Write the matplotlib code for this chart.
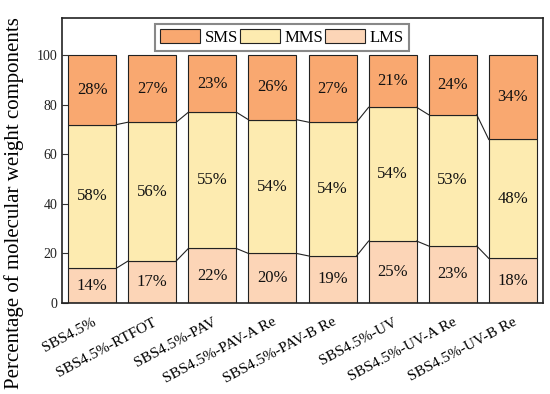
import numpy as np
import matplotlib
matplotlib.use('Agg')
import matplotlib.pyplot as plt

categories = ['SBS4.5%', 'SBS4.5%-RTFOT', 'SBS4.5%-PAV', 'SBS4.5%-PAV-A Re',
              'SBS4.5%-PAV-B Re', 'SBS4.5%-UV', 'SBS4.5%-UV-A Re', 'SBS4.5%-UV-B Re']
lms = [14, 17, 22, 20, 19, 25, 23, 18]
mms = [58, 56, 55, 54, 54, 54, 53, 48]
sms = [28, 27, 23, 26, 27, 21, 24, 34]

colors = {'SMS': '#F9A870', 'MMS': '#FDEBB0', 'LMS': '#FCD5B7'}

plt.rcParams['font.family'] = ['Liberation Serif', 'DejaVu Serif']

fig = plt.figure(figsize=(5.5, 3.94), dpi=100)
ax = fig.add_axes([0.113, 0.231, 0.874, 0.723])

pos = np.arange(len(categories))
width = 0.8
lms = np.array(lms)
mms = np.array(mms)
sms = np.array(sms)
b1 = ax.bar(pos, lms, width=width, color=colors['LMS'], edgecolor='#222222', linewidth=0.8, label='LMS', zorder=2)
b2 = ax.bar(pos, mms, width=width, bottom=lms, color=colors['MMS'], edgecolor='#222222', linewidth=0.8, label='MMS', zorder=2)
b3 = ax.bar(pos, sms, width=width, bottom=lms + mms, color=colors['SMS'], edgecolor='#222222', linewidth=0.8, label='SMS', zorder=2)

# connecting lines between bars
for level in [lms, lms + mms]:
    for i in range(len(pos) - 1):
        ax.plot([pos[i] + width / 2, pos[i + 1] - width / 2], [level[i], level[i + 1]],
                color='#222222', linewidth=0.8, zorder=3)

# value labels
for bottom, vals in [(np.zeros(len(pos)), lms), (lms, mms), (lms + mms, sms)]:
    for x, b, v in zip(pos, bottom, vals):
        ax.text(x, b + v / 2, '%d%%' % v, ha='center', va='center', fontsize=12, color='#111111', zorder=4)

ax.set_xlim(-0.5, 7.5)
ax.set_ylim(0, 115)
ax.set_yticks([0, 20, 40, 60, 80, 100])
ax.tick_params(axis='y', direction='in', labelsize=10, length=4, colors='#333333', labelcolor='#222222')
ax.set_xticks(pos)
ax.set_xticklabels(categories, rotation=28, ha='right', rotation_mode='anchor', fontsize=11)
ax.tick_params(axis='x', length=0, pad=9)
ax.set_ylabel('Percentage of molecular weight components', fontsize=15)
ax.yaxis.set_label_coords(-0.08, 0.35)
for s in ax.spines.values():
    s.set_linewidth(1.2)
    s.set_color('#222222')

handles = [b3, b2, b1]
leg = ax.legend(handles, ['SMS', 'MMS', 'LMS'], ncol=3, loc='upper center', bbox_to_anchor=(0.457, 0.99),
                fontsize=12, handlelength=2.4, handleheight=0.9, handletextpad=0.3,
                columnspacing=0.1, borderpad=0.3, fancybox=False, framealpha=1, borderaxespad=0.2)
leg.get_frame().set_edgecolor('#888888')
leg.get_frame().set_linewidth(1.5)

fig.savefig('out.png', dpi=100)
